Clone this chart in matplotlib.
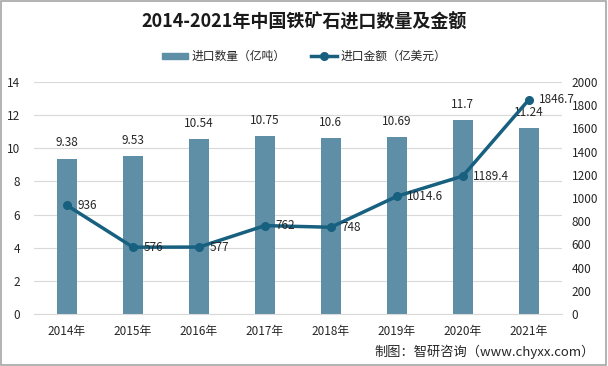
import matplotlib
matplotlib.use("Agg")
import matplotlib.pyplot as plt
from matplotlib.patches import Rectangle
from matplotlib.lines import Line2D

plt.rcParams['font.family'] = ['Noto Sans CJK SC', 'DejaVu Sans']

years = ['2014年', '2015年', '2016年', '2017年', '2018年', '2019年', '2020年', '2021年']
volume = [9.38, 9.53, 10.54, 10.75, 10.6, 10.69, 11.7, 11.24]
amount = [936, 576, 577, 762, 748, 1014.6, 1189.4, 1846.7]
amount_labels = ['936', '576', '577', '762', '748', '1014.6', '1189.4', '1846.7']
volume_labels = ['9.38', '9.53', '10.54', '10.75', '10.6', '10.69', '11.7', '11.24']

bar_color = '#5E8FA6'
line_color = '#17607F'
text_color = '#262626'

fig = plt.figure(figsize=(6.08, 3.66), dpi=100)
fig.patch.set_facecolor('white')
fig.add_artist(Rectangle((0.002, 0.003), 0.995, 0.994, transform=fig.transFigure,
                         fill=False, edgecolor='#A6A6A6', linewidth=1.2))

ax = fig.add_axes([0.056, 0.142, 0.868, 0.634])
ax2 = ax.twinx()

x = list(range(len(years)))
ax.bar(x, volume, width=0.3, color=bar_color, zorder=2)
ax.set_ylim(0, 14)
ax.set_yticks(range(0, 15, 2))
ax.set_xlim(-0.5, len(years) - 0.5)
ax.set_xticks(x)
ax.set_xticklabels(years)
ax.grid(axis='y', color='#D9D9D9', linewidth=0.8, zorder=0)
ax.set_axisbelow(True)
for s in ['top', 'right', 'left']:
    ax.spines[s].set_visible(False)
ax.spines['bottom'].set_color('#D9D9D9')
ax.tick_params(axis='both', length=0, labelsize=8.5, colors=text_color)
ax.tick_params(axis='y', pad=10)
ax.tick_params(axis='x', pad=8)

for i, (v, lab) in enumerate(zip(volume, volume_labels)):
    ax.text(i, v + 0.55, lab, ha='center', va='bottom', fontsize=8.5, color=text_color, zorder=5)

ax2.plot(x, amount, color=line_color, linewidth=2.5, marker='o', markersize=5.5, zorder=4)
ax2.set_ylim(0, 2000)
ax2.set_yticks(range(0, 2001, 200))
for s in ['top', 'right', 'left', 'bottom']:
    ax2.spines[s].set_visible(False)
ax2.tick_params(axis='y', length=0, labelsize=8.5, colors=text_color, pad=7)
for i, (v, lab) in enumerate(zip(amount, amount_labels)):
    ax2.text(i + 0.16, v, lab, ha='left', va='center', fontsize=8.5, color=text_color, zorder=5)

fig.text(0.5, 0.94, '2014-2021年中国铁矿石进口数量及金额', ha='center', va='center',
         fontsize=13, fontweight='bold', color='#1a1a1a')

handles = [Rectangle((0, 0), 1, 1, color=bar_color),
           Line2D([0], [0], color=line_color, linewidth=2.5, marker='o', markersize=5.5)]
fig.legend(handles, ['进口数量（亿吨）', '进口金额（亿美元）'], loc='center', bbox_to_anchor=(0.5, 0.845),
           ncol=2, frameon=False, fontsize=8.5, handlelength=2.2, handleheight=0.5,
           handletextpad=0.3, columnspacing=2.2, labelcolor=text_color)

fig.text(0.978, 0.04, '制图：智研咨询（www.chyxx.com）', ha='right', va='center',
         fontsize=9.5, color=text_color)

fig.savefig('out.png', dpi=100, facecolor='white')
